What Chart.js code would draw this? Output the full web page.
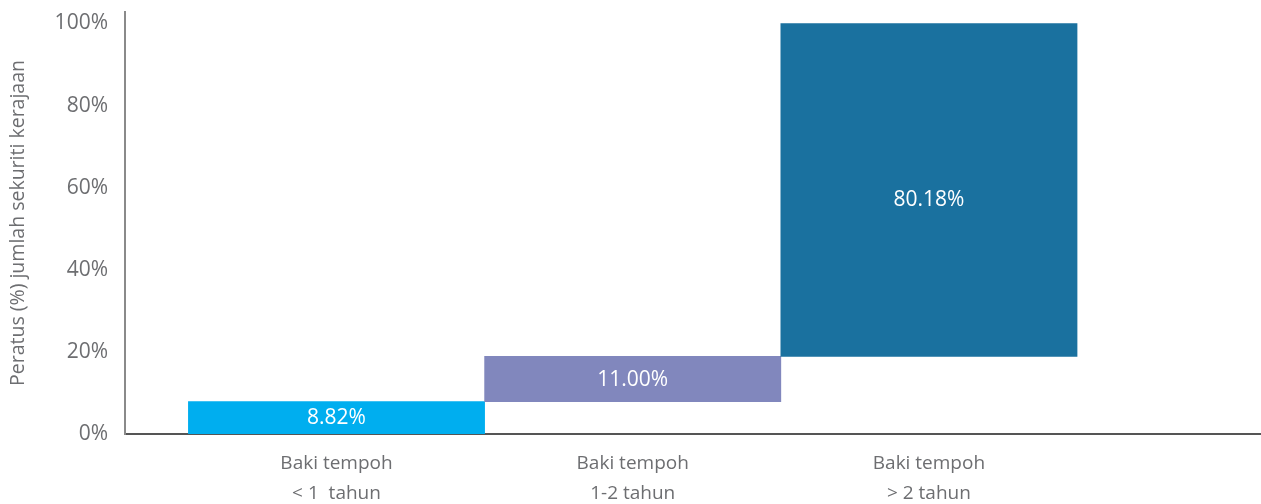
<!DOCTYPE html>
<html>
<head>
<meta charset="utf-8">
<script src="https://cdn.jsdelivr.net/npm/chart.js@4/dist/chart.umd.min.js"></script>
<style>
html,body{margin:0;padding:0;background:#fff;}
canvas{display:block;}
</style>
</head>
<body>
<canvas id="c" width="1261" height="504"></canvas>
<script>
// Data
const categories = [['Baki tempoh', '< 1  tahun'], ['Baki tempoh', '1-2 tahun'], ['Baki tempoh', '> 2 tahun']];
const barStart = [0, 7.9, 18.9];
const barEnd = [7.9, 18.9, 100];
const valueLabels = ['8.82%', '11.00%', '80.18%'];
const barColors = ['#00AEEF', '#8187BD', '#1A719F'];
const yTicks = [0, 20, 40, 60, 80, 100];

const FONT = "'Open Sans', 'Noto Sans', sans-serif";
const GREY = '#6d6e71';

const points = categories.map((c, i) => ({ x: i, y: [barStart[i], barEnd[i]] }));

const labelPlugin = {
  id: 'valueLabels',
  afterDatasetsDraw(chart) {
    const ctx = chart.ctx;
    const meta = chart.getDatasetMeta(0);
    const shift = [0, 1, 10];
    ctx.save();
    ctx.fillStyle = '#ffffff';
    ctx.font = "21px " + FONT;
    ctx.textAlign = 'center';
    ctx.textBaseline = 'middle';
    meta.data.forEach((bar, i) => {
      const cy = (bar.y + bar.base) / 2 + shift[i];
      ctx.fillText(valueLabels[i], bar.x, cy);
    });
    ctx.restore();
  }
};

new Chart(document.getElementById('c'), {
  type: 'bar',
  data: {
    datasets: [{
      data: points,
      backgroundColor: barColors,
      borderWidth: 0,
      barPercentage: 1,
      categoryPercentage: 1
    }]
  },
  options: {
    responsive: false,
    devicePixelRatio: 1,
    animation: false,
    layout: { padding: { top: 12, right: 0, left: 0, bottom: 0 } },
    plugins: { legend: { display: false }, tooltip: { enabled: false } },
    scales: {
      x: {
        type: 'linear',
        offset: false,
        min: -0.714,
        max: 3.121,
        grid: { display: false, drawTicks: false, offset: false },
        border: { display: true, color: '#555555', width: 2 },
        afterBuildTicks(scale) { scale.ticks = categories.map((c, i) => ({ value: i })); },
        afterFit(scale) { scale.height = 70; scale.paddingLeft = 0; scale.paddingRight = 0; },
        ticks: {
          autoSkip: false,
          maxRotation: 0,
          padding: 15,
          color: GREY,
          font: { family: FONT, size: 19, lineHeight: 1.55 },
          callback: (v) => categories[v] || ''
        }
      },
      y: {
        min: 0,
        max: 102.8,
        grid: { display: false, drawTicks: false },
        border: { display: true, color: '#8a8a8a', width: 2 },
        afterBuildTicks(scale) { scale.ticks = yTicks.map(v => ({ value: v })); },
        afterFit(scale) { scale.width = 125; scale.paddingTop = 0; scale.paddingBottom = 0; },
        title: {
          display: true,
          text: 'Peratus (%) jumlah sekuriti kerajaan',
          color: GREY,
          font: { family: FONT, size: 19.5 },
          padding: { top: 7, bottom: 0 }
        },
        ticks: {
          padding: 17,
          color: GREY,
          font: { family: FONT, size: 21 },
          callback: (v) => v + '%'
        }
      }
    }
  },
  plugins: [labelPlugin]
});
</script>
</body>
</html>
